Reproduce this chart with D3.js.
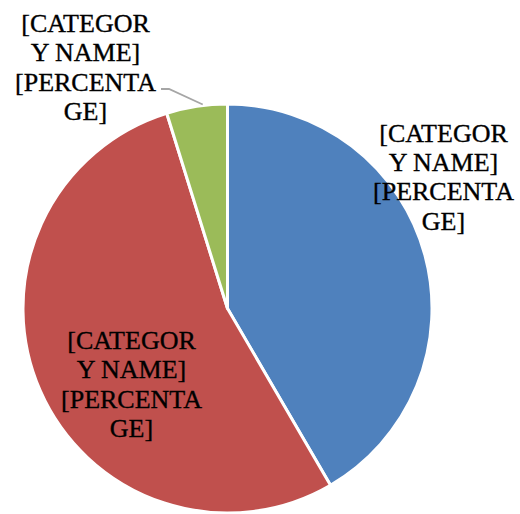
<!DOCTYPE html>
<html>
<head>
<meta charset="utf-8">
<script src="https://cdn.jsdelivr.net/npm/d3@7"></script>
<style>
  html, body { margin: 0; padding: 0; background: #fff; }
  svg { display: block; }
  .lbl { font-family: "Liberation Serif", "Times New Roman", serif; font-size: 26px; fill: #000; stroke: #000; stroke-width: 0.35px; }
</style>
</head>
<body>
<svg id="chart" width="520" height="514"></svg>
<script>
// Slice shares (percent), drawn clockwise from 12 o'clock
const sliceNames = ["Series A", "Series B", "Series C"];
const sliceValues = [41.6, 53.6, 4.8];
const sliceColors = ["#4F81BD", "#C0504D", "#9BBB59"];
// Data label text, wrapped the way the label box breaks it
const labelLines = ["[CATEGOR", "Y NAME]", "[PERCENTA", "GE]"];

const svg = d3.select("#chart");
const cx = 227.5, cy = 308.5, radius = 204.5;

const pie = d3.pie().sort(null).value(d => d.value);
const arc = d3.arc().innerRadius(0).outerRadius(radius);

const data = sliceNames.map((n, i) => ({ name: n, value: sliceValues[i], color: sliceColors[i] }));
const arcs = pie(data);

const g = svg.append("g").attr("transform", `translate(${cx},${cy})`);
g.selectAll("path.slice")
  .data(arcs)
  .join("path")
  .attr("class", "slice")
  .attr("d", arc)
  .attr("fill", d => d.data.color)
  .attr("stroke", "#fff")
  .attr("stroke-width", 3)
  .attr("stroke-linejoin", "round");

// Label placement per slice: text block centre x and first baseline y
const labelPos = [
  { x: 443.5, y: 141.5 },
  { x: 131.5, y: 349 },
  { x: 85.5, y: 31.7 }
];
const lineStep = 29.4;

// Leader line for the small slice, running from its label to the arc edge
const small = arcs[2];
const edgeAngle = (small.startAngle + small.endAngle) / 2 + 0.03;
const edge = [cx + Math.sin(edgeAngle) * (radius + 1), cy - Math.cos(edgeAngle) * (radius + 1)];
svg.append("polyline")
  .attr("points", [[161, 89], [169, 89], edge].map(p => p.join(",")).join(" "))
  .attr("fill", "none")
  .attr("stroke", "#A6A6A6")
  .attr("stroke-width", 1.8);

arcs.forEach((a, i) => {
  const t = svg.append("text")
    .attr("class", "lbl")
    .attr("text-anchor", "middle");
  labelLines.forEach((line, k) => {
    t.append("tspan")
      .attr("x", labelPos[i].x)
      .attr("y", labelPos[i].y + k * lineStep)
      .text(line);
  });
});
</script>
</body>
</html>
